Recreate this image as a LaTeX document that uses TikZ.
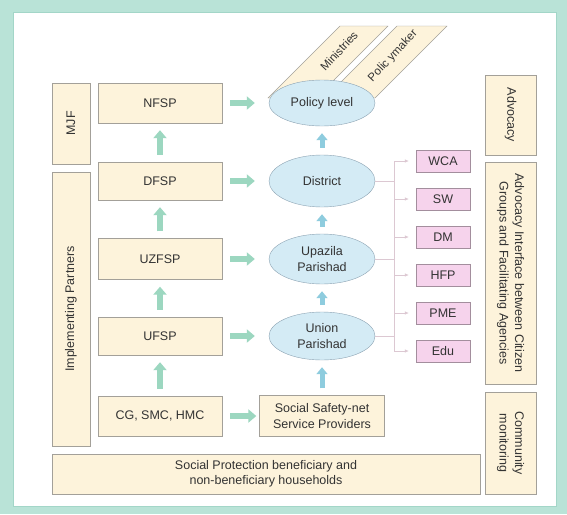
\documentclass[tikz,border=0pt]{standalone}
\usepackage{fontspec}
\setmainfont{Liberation Sans}
\usepackage{tikz}
\usetikzlibrary{arrows.meta}
\usetikzlibrary{shapes.geometric}

\definecolor{framecol}{HTML}{B9E3D7}
\definecolor{frameline}{HTML}{A3D6C8}
\definecolor{cream}{HTML}{FDF3DB}
\definecolor{boxline}{HTML}{A3A099}
\definecolor{skyfill}{HTML}{D4EBF5}
\definecolor{skyline}{HTML}{8CA3B3}
\definecolor{pinkfill}{HTML}{F6D3EC}
\definecolor{pinkline}{HTML}{A38E9D}
\definecolor{mint}{HTML}{9CD7C0}
\definecolor{skyarrow}{HTML}{8ECCDE}
\definecolor{linkcol}{HTML}{DCC8D2}

\begin{document}
\begin{tikzpicture}[x=1pt,y=-1pt,>/.tip={Latex[length=4pt,width=3.5pt]},
	every node/.style={font=\fontsize{12.5}{15.5}\selectfont,inner sep=0pt,align=center,text=black!80},
	box/.style={draw=boxline,fill=cream,minimum width=124pt},
	level/.style={draw=skyline,fill=skyfill,shape=ellipse,minimum width=106pt},
	agency/.style={draw=pinkline,fill=pinkfill,minimum width=54pt,minimum height=22pt},
	side/.style={draw=boxline,fill=cream},
	fat/.style={draw=mint,line width=6pt,-{Triangle[length=8pt,width=13pt]}},
	fatb/.style={draw=skyarrow,line width=5pt,-{Triangle[length=7pt,width=11pt]}},
	link/.style={draw=linkcol,line width=0.6pt}]
	\useasboundingbox (0,0) rectangle (567,514);
	\fill[framecol] (0,0) rectangle (567,514);
	\filldraw[fill=white,draw=frameline,line width=1pt] (13,12) rectangle (556,506);

	\draw (71,123.5) node (mjf) [side,rotate=90,minimum width=81pt,minimum height=38pt] {MJF};
	\draw (71,309) node (impl) [side,rotate=90,minimum width=274pt,minimum height=38pt] {Implementing Partners};
	\draw (510.5,115) node (advo) [side,rotate=-90,minimum width=80pt,minimum height=51pt] {Advocacy};
	\draw (510.5,273) node (iface) [side,rotate=-90,minimum width=222pt,minimum height=51pt] {Advocacy Interface between Citizen\\Groups and Facilitating Agencies};
	\draw (510.5,443) node (commu) [side,rotate=-90,minimum width=102pt,minimum height=51pt] {Community\\monitoring};

	\draw (160,103) node (NFSP) [box,minimum height=40pt] {NFSP};
	\draw (160,181) node (DFSP) [box,minimum height=38pt] {DFSP};
	\draw (160,259) node (UZFSP) [box,minimum height=41pt] {UZFSP};
	\draw (160,336) node (UFSP) [box,minimum height=38pt] {UFSP};
	\draw (160,416) node (CG) [box,minimum height=40pt] {CG, SMC, HMC};
	\draw (266,474) node (hh) [box,minimum width=428pt,minimum height=40pt] {Social Protection beneficiary and\\non-beneficiary households};

	\filldraw[draw=boxline,fill=cream] (340,26) -- (388,26) -- (316,98) -- (268,98) -- cycle;
	\filldraw[draw=boxline,fill=cream] (397,26) -- (447,26) -- (375,98) -- (325,98) -- cycle;
	\node (mins) [rotate=47,font=\fontsize{11.5}{14}\selectfont] at (339,51) {Ministries};
	\node (polm) [rotate=47,font=\fontsize{11.5}{14}\selectfont] at (393,56) {Polic ymaker};

	\draw (322,103) node (policy) [level,minimum height=46pt] {Policy level};
	\draw (322,181) node (district) [level,minimum height=52pt] {District};
	\draw (322,259) node (upazila) [level,minimum height=50pt] {Upazila\\Parishad};
	\draw (322,336) node (union) [level,minimum height=48pt] {Union\\Parishad};
	\draw (322,416) node (ssn) [box,minimum width=125pt,minimum height=41pt] {Social Safety-net\\Service Providers};

	\draw (443,161) node (WCA) [agency] {WCA};
	\draw (443,199) node (SW) [agency] {SW};
	\draw (443,237) node (DM) [agency] {DM};
	\draw (443,275) node (HFP) [agency] {HFP};
	\draw (443,313) node (PME) [agency] {PME};
	\draw (443,351) node (Edu) [agency] {Edu};

	\coordinate (bus) at (394,0);
	\draw[link] (bus |- WCA) -- (bus |- Edu);
	\draw[link] (district.east) -- (district.east -| bus);
	\draw[link] (upazila.east) -- (upazila.east -| bus);
	\draw[link] (union.east) -- (union.east -| bus);
	\foreach \ag in {WCA,SW,DM,HFP,PME,Edu}
		\draw[link,->,shorten >=7pt] (bus |- \ag) -- (\ag.west);

	\draw[fat,shorten <=8pt,shorten >=14pt] (NFSP) -- (policy);
	\draw[fat,shorten <=8pt,shorten >=14pt] (DFSP) -- (district);
	\draw[fat,shorten <=8pt,shorten >=14pt] (UZFSP) -- (upazila);
	\draw[fat,shorten <=8pt,shorten >=14pt] (UFSP) -- (union);
	\draw[fat,shorten <=8pt,shorten >=3pt] (CG) -- (ssn);

	\draw[fat,shorten <=7pt,shorten >=7pt] (DFSP) -- (NFSP);
	\draw[fat,shorten <=7pt,shorten >=7pt] (UZFSP) -- (DFSP);
	\draw[fat,shorten <=7pt,shorten >=7pt] (UFSP) -- (UZFSP);
	\draw[fat,shorten <=7pt,shorten >=7pt] (CG) -- (UFSP);

	\draw[fatb,shorten <=7pt,shorten >=7pt] (district) -- (policy);
	\draw[fatb,shorten <=7pt,shorten >=7pt] (upazila) -- (district);
	\draw[fatb,shorten <=7pt,shorten >=7pt] (union) -- (upazila);
	\draw[fatb,shorten <=7pt,shorten >=7pt] (ssn) -- (union);
\end{tikzpicture}
\end{document}
